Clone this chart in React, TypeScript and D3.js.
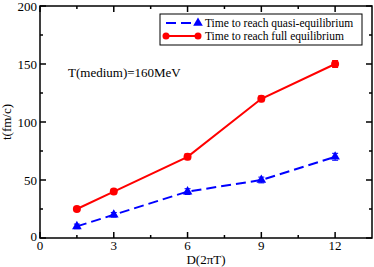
import * as d3 from 'd3';

// values
const dValues = [1.5, 3, 6, 9, 12];
const quasiTimes = [10, 20, 40, 50, 70];
const quasiErrors = [2, 2, 2.5, 2.5, 3];
const fullTimes = [25, 40, 70, 120, 150];
const fullErrors = [2, 2, 2.5, 2.5, 3];
const xTicks = [0, 3, 6, 9, 12];
const yTicks = [0, 50, 100, 150, 200];
const legendLabels = ['Time to reach quasi-equilibrium', 'Time to reach full equilibrium'];

const W = 374;
const H = 267;
const FONT = 'Liberation Serif';

const App = () => {
  const x = d3.scaleLinear().domain([0, 13.5]).range([40, 372]);
  const y = d3.scaleLinear().domain([0, 200]).range([238, 6]);

  const xMinor = d3.range(1.5, 13.5, 3);
  const yMinor = d3.range(25, 200, 50);

  const line = d3.line<[number, number]>().x(d => x(d[0])).y(d => y(d[1]));
  const quasi = dValues.map((d, i) => [d, quasiTimes[i]] as [number, number]);
  const full = dValues.map((d, i) => [d, fullTimes[i]] as [number, number]);
  const tri = d3.symbol().type(d3.symbolTriangle).size(40)();

  const [x0, x1] = x.range();
  const [y0, y1] = y.range();

  return (
    <svg width={W} height={H} style={{ position: 'absolute', left: 0, top: 0 }} fontFamily={FONT}>
      <rect width={W} height={H} fill="white" />

      {/* ticks on all four sides, pointing inward */}
      {xTicks.map(t => (
        <g key={'xt' + t}>
          <line x1={x(t)} x2={x(t)} y1={y0} y2={y0 - 6} stroke="black" strokeWidth={1.5} />
          <line x1={x(t)} x2={x(t)} y1={y1} y2={y1 + 6} stroke="black" strokeWidth={1.5} />
          <text x={x(t)} y={y0 + 12} textAnchor="middle" fontSize={13} fontFamily={FONT}>{t}</text>
        </g>
      ))}
      {xMinor.map(t => (
        <g key={'xm' + t}>
          <line x1={x(t)} x2={x(t)} y1={y0} y2={y0 - 3} stroke="black" strokeWidth={1.5} />
          <line x1={x(t)} x2={x(t)} y1={y1} y2={y1 + 3} stroke="black" strokeWidth={1.5} />
        </g>
      ))}
      {yTicks.map(t => (
        <g key={'yt' + t}>
          <line x1={x0} x2={x0 + 6} y1={y(t)} y2={y(t)} stroke="black" strokeWidth={1.5} />
          <line x1={x1} x2={x1 - 6} y1={y(t)} y2={y(t)} stroke="black" strokeWidth={1.5} />
          <text x={x0 - 3} y={y(t) + (t === 0 ? 3 : 5)} textAnchor="end" fontSize={13} fontFamily={FONT}>{t}</text>
        </g>
      ))}
      {yMinor.map(t => (
        <g key={'ym' + t}>
          <line x1={x0} x2={x0 + 3} y1={y(t)} y2={y(t)} stroke="black" strokeWidth={1.5} />
          <line x1={x1} x2={x1 - 3} y1={y(t)} y2={y(t)} stroke="black" strokeWidth={1.5} />
        </g>
      ))}
      <rect x={x0} y={y1} width={x1 - x0} height={y0 - y1} fill="none" stroke="black" strokeWidth={1.5} />

      <text x={(x0 + x1) / 2} y={264} textAnchor="middle" fontSize={13} fontFamily={FONT}>D(2πT)</text>
      <text transform={`translate(11,${(y0 + y1) / 2}) rotate(-90)`} textAnchor="middle" fontSize={13} fontFamily={FONT}>t(fm/c)</text>

      <text x={68} y={77} fontSize={13} fontFamily={FONT}>T(medium)=160MeV</text>

      {/* full equilibrium */}
      <path d={line(full) ?? ''} fill="none" stroke="#ff0000" strokeWidth={2} />
      {full.map((p, i) => (
        <g key={'f' + i}>
          <line x1={x(p[0])} x2={x(p[0])} y1={y(p[1] - fullErrors[i])} y2={y(p[1] + fullErrors[i])} stroke="#ff0000" strokeWidth={1} />
          <line x1={x(p[0]) - 3} x2={x(p[0]) + 3} y1={y(p[1] - fullErrors[i])} y2={y(p[1] - fullErrors[i])} stroke="#ff0000" />
          <line x1={x(p[0]) - 3} x2={x(p[0]) + 3} y1={y(p[1] + fullErrors[i])} y2={y(p[1] + fullErrors[i])} stroke="#ff0000" />
          <circle cx={x(p[0])} cy={y(p[1])} r={4} fill="#ff0000" />
        </g>
      ))}

      {/* quasi equilibrium */}
      <path d={line(quasi) ?? ''} fill="none" stroke="#0000ff" strokeWidth={2} strokeDasharray="10,5" />
      {quasi.map((p, i) => (
        <g key={'q' + i}>
          <line x1={x(p[0])} x2={x(p[0])} y1={y(p[1] - quasiErrors[i])} y2={y(p[1] + quasiErrors[i])} stroke="#0000ff" strokeWidth={1} />
          <line x1={x(p[0]) - 3} x2={x(p[0]) + 3} y1={y(p[1] - quasiErrors[i])} y2={y(p[1] - quasiErrors[i])} stroke="#0000ff" />
          <line x1={x(p[0]) - 3} x2={x(p[0]) + 3} y1={y(p[1] + quasiErrors[i])} y2={y(p[1] + quasiErrors[i])} stroke="#0000ff" />
          <path d={tri ?? ''} transform={`translate(${x(p[0])},${y(p[1])})`} fill="#0000ff" />
        </g>
      ))}

      {/* legend */}
      <rect x={160} y={14} width={202} height={31} fill="white" stroke="black" strokeWidth={1} />
      <line x1={166} x2={198} y1={23} y2={23} stroke="#0000ff" strokeWidth={2} strokeDasharray="10,5" />
      <path d={tri ?? ''} transform="translate(198,23)" fill="#0000ff" />
      <text x={205} y={27} fontSize={11.5} fontFamily={FONT}>{legendLabels[0]}</text>
      <line x1={166} x2={198} y1={36} y2={36} stroke="#ff0000" strokeWidth={2} />
      <circle cx={166} cy={36} r={3.5} fill="#ff0000" />
      <circle cx={198} cy={36} r={3.5} fill="#ff0000" />
      <text x={205} y={40} fontSize={11.5} fontFamily={FONT}>{legendLabels[1]}</text>
    </svg>
  );
};

export default App;
